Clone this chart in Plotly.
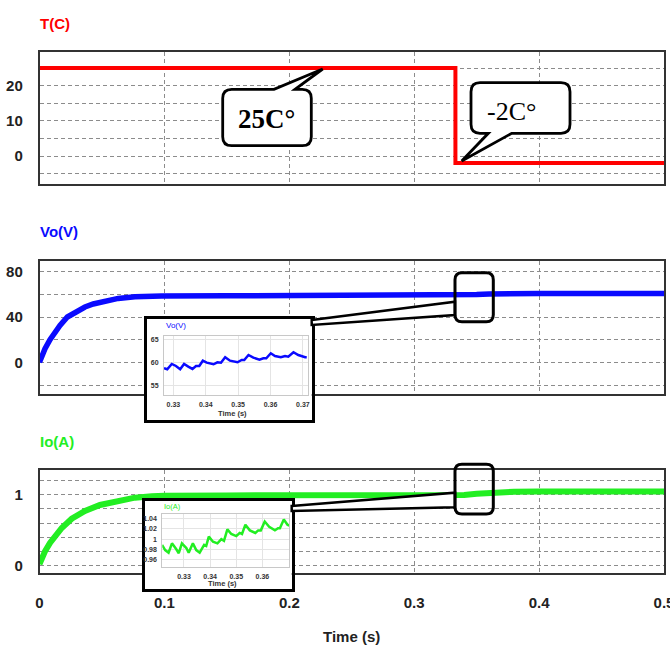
import plotly.graph_objects as go

W, H = 670, 649

# ---------------- data ----------------
temp_t = [0, 0.333, 0.333, 0.5]
temp_c = [25, 25, -2, -2]

vo_t = [0, 0.002, 0.0044, 0.0084, 0.0124, 0.0164, 0.0223, 0.029, 0.0364, 0.043,
        0.0497, 0.056, 0.063, 0.0764, 0.0978, 0.15, 0.2, 0.25, 0.3, 0.333,
        0.34, 0.35, 0.36, 0.37, 0.38, 0.4, 0.45, 0.5]
vo_v = [0, 6, 12, 20, 26.5, 32.5, 40, 44.5, 48.8, 51.5,
        53.5, 55.2, 56.4, 57.8, 58.5, 58.7, 58.7, 58.7, 58.7, 58.8,
        59.2, 59.8, 60.3, 60.6, 60.8, 60.8, 60.8, 60.8]

io_t = [0, 0.002, 0.0044, 0.0084, 0.013, 0.0178, 0.0258, 0.0364, 0.0484, 0.063,
        0.0764, 0.09, 0.1, 0.15, 0.2, 0.25, 0.3, 0.333, 0.34, 0.35,
        0.36, 0.37, 0.38, 0.4, 0.45, 0.5]
io_a = [0.02, 0.11, 0.2, 0.32, 0.43, 0.53, 0.66, 0.77, 0.855, 0.92,
        0.958, 0.978, 0.985, 0.99, 0.99, 0.99, 0.99, 0.99, 0.996, 1.012,
        1.025, 1.035, 1.042, 1.045, 1.045, 1.045]

vo_zoom_t = [0.3271, 0.3281, 0.3295, 0.3308, 0.3321, 0.3333, 0.3346, 0.3359, 0.3370, 0.3380,
             0.3391, 0.3403, 0.3424, 0.3436, 0.3447, 0.3460, 0.3475, 0.3498, 0.3511, 0.3519,
             0.3532, 0.3547, 0.3566, 0.3578, 0.3587, 0.3601, 0.3614, 0.3632, 0.3645, 0.3655,
             0.3671, 0.3686, 0.3707, 0.3712]
vo_zoom_v = [58.85, 58.63, 59.78, 59.35, 58.63, 59.78, 59.20, 58.70, 59.35, 59.35,
             60.50, 60.07, 59.72, 60.15, 60.07, 61.24, 60.50, 60.15, 60.65, 60.65,
             61.74, 61.15, 60.72, 61.02, 61.02, 62.11, 61.52, 61.24, 61.52, 61.37,
             62.33, 61.74, 61.24, 61.24]

io_zoom_t = [0.3216, 0.3228, 0.3241, 0.3254, 0.3270, 0.3280, 0.3292, 0.3309, 0.3318, 0.3334,
             0.3347, 0.3360, 0.3377, 0.3385, 0.3395, 0.3411, 0.3428, 0.3443, 0.3453, 0.3466,
             0.3481, 0.3500, 0.3513, 0.3522, 0.3535, 0.3552, 0.3573, 0.3584, 0.3594, 0.3609,
             0.3626, 0.3648, 0.3660, 0.3667, 0.3682, 0.3696, 0.3703]
io_zoom_a = [0.989, 0.979, 0.974, 0.992, 0.981, 0.973, 0.992, 0.983, 0.974, 0.992,
             0.979, 0.974, 0.989, 0.987, 1.005, 0.995, 0.992, 1.000, 0.997, 1.019,
             1.010, 1.006, 1.012, 1.010, 1.028, 1.017, 1.012, 1.017, 1.017, 1.034,
             1.024, 1.017, 1.021, 1.021, 1.038, 1.028, 1.026]

time_ticks = [0, 0.1, 0.2, 0.3, 0.4, 0.5]
time_labels = ["0", "0.1", "0.2", "0.3", "0.4", "0.5"]
temp_ticks = [0, 10, 20]
vo_ticks = [0, 40, 80]
io_ticks = [0, 1]
vo_zoom_xticks = [0.33, 0.34, 0.35, 0.36, 0.37]
vo_zoom_yticks = [55, 60, 65]
io_zoom_xticks = [0.33, 0.34, 0.35, 0.36]
io_zoom_yticks = [0.96, 0.98, 1.0, 1.02, 1.04]
io_zoom_ylabels = ["0.96", "0.98", "1", "1.02", "1.04"]

# ---------------- style ----------------
RED, BLUE, GREEN = "#ff0000", "#0a0aff", "#22ee22"
SANS = "Liberation Sans, Arial, sans-serif"
SERIF = "Liberation Serif, Times New Roman, serif"
GRID = "#8c8c8c"
DASH = "4px,3px"


def fx(px):
    return px / W


def fy(py):
    return 1 - py / H


def pt(px, py):
    return f"{fx(px):.5f},{fy(py):.5f}"


def bubble_path(x0, y0, x1, y1, r, top_tail=None, bottom_tail=None):
    """Rounded box outline (pixel coords) with an optional pointer on the top or bottom edge."""
    p = [f"M{pt(x0 + r, y0)}"]
    if top_tail:
        a, (tx, ty), b = top_tail
        p += [f"L{pt(a, y0)}", f"L{pt(tx, ty)}", f"L{pt(b, y0)}"]
    p += [f"L{pt(x1 - r, y0)}", f"Q{pt(x1, y0)} {pt(x1, y0 + r)}",
          f"L{pt(x1, y1 - r)}", f"Q{pt(x1, y1)} {pt(x1 - r, y1)}"]
    if bottom_tail:
        b, (tx, ty), a = bottom_tail
        p += [f"L{pt(b, y1)}", f"L{pt(tx, ty)}", f"L{pt(a, y1)}"]
    p += [f"L{pt(x0 + r, y1)}", f"Q{pt(x0, y1)} {pt(x0, y1 - r)}",
          f"L{pt(x0, y0 + r)}", f"Q{pt(x0, y0)} {pt(x0 + r, y0)}", "Z"]
    return " ".join(p)


def poly_path(points):
    return "M" + " L".join(pt(x, y) for x, y in points) + " Z"


# ---------------- traces ----------------
fig = go.Figure()
fig.add_trace(go.Scatter(x=temp_t, y=temp_c, mode="lines",
                         line=dict(color=RED, width=4), xaxis="x", yaxis="y"))
fig.add_trace(go.Scatter(x=vo_t, y=vo_v, mode="lines",
                         line=dict(color=BLUE, width=5.5), xaxis="x2", yaxis="y2"))
fig.add_trace(go.Scatter(x=io_t, y=io_a, mode="lines",
                         line=dict(color=GREEN, width=6), xaxis="x3", yaxis="y3"))
# frame panels behind the zoom views
fig.add_trace(go.Scatter(x=[], y=[], xaxis="x4", yaxis="y4"))
fig.add_trace(go.Scatter(x=vo_zoom_t, y=vo_zoom_v, mode="lines",
                         line=dict(color=BLUE, width=2.5), xaxis="x5", yaxis="y5"))
fig.add_trace(go.Scatter(x=[], y=[], xaxis="x6", yaxis="y6"))
fig.add_trace(go.Scatter(x=io_zoom_t, y=io_zoom_a, mode="lines",
                         line=dict(color=GREEN, width=2.5), xaxis="x7", yaxis="y7"))

# ---------------- axes ----------------
main_xdom = [fx(39.5), fx(664)]
TICKFONT = dict(family=SANS, size=15, color="#222", weight="bold")


def main_x(anchor, labels=False):
    return dict(domain=main_xdom, range=[0, 0.5], anchor=anchor, automargin=False,
                tickvals=time_ticks, ticktext=time_labels, showticklabels=labels,
                ticklabeloverflow="allow",
                showgrid=True, gridcolor=GRID, griddash=DASH, gridwidth=1,
                showline=True, mirror=True, linecolor="#333", linewidth=1.5,
                ticks="", zeroline=False, ticklabelstandoff=15, tickfont=TICKFONT)


def main_y(anchor, dom, rng, ticks, minor_step):
    return dict(domain=dom, range=rng, anchor=anchor, tickvals=ticks, automargin=False,
                showgrid=True, gridcolor=GRID, griddash=DASH, gridwidth=1,
                minor=dict(tick0=0, dtick=minor_step, showgrid=True, gridcolor=GRID,
                           griddash=DASH, gridwidth=1, ticks=""),
                showline=True, mirror=True, linecolor="#333", linewidth=1.5,
                ticks="", zeroline=False, ticklabelstandoff=12, tickfont=TICKFONT)


def frame_axis(anchor, dom):
    return dict(domain=dom, range=[0, 1], anchor=anchor, showline=True, mirror=True,
                linecolor="black", linewidth=3, showgrid=False, zeroline=False,
                showticklabels=False, ticks="", fixedrange=True, automargin=False)


def zoom_axis(anchor, dom, rng, ticks, labels=None):
    d = dict(domain=dom, range=rng, anchor=anchor, tickvals=ticks, automargin=False,
             showgrid=True, gridcolor="#e4e4e4", gridwidth=1,
             showline=True, mirror=True, linecolor="#c8c8c8", linewidth=1,
             ticks="", zeroline=False, ticklabelstandoff=3,
             tickfont=dict(family=SANS, size=7, color="#333", weight="bold"))
    if labels:
        d["ticktext"] = labels
    return d


fig.update_layout(
    xaxis=main_x("y"),
    yaxis=main_y("x", [fy(184.3), fy(51.7)], [-8.04, 29.63], temp_ticks, 5),
    xaxis2=main_x("y2"),
    yaxis2=main_y("x2", [fy(394.3), fy(261)], [-28.2, 89.4], vo_ticks, 20),
    xaxis3=main_x("y3", labels=True),
    yaxis3=main_y("x3", [fy(573.3), fy(470)], [-0.110, 1.349], io_ticks, 0.2),
    xaxis4=frame_axis("y4", [fx(147), fx(311.7)]),
    yaxis4=frame_axis("x4", [fy(420), fy(319)]),
    xaxis5=zoom_axis("y5", [fx(164), fx(307.7)], [0.3271, 0.3715], vo_zoom_xticks),
    yaxis5=zoom_axis("x5", [fy(395), fy(335.7)], [53.04, 65.93], vo_zoom_yticks),
    xaxis6=frame_axis("y6", [fx(145), fx(291.7)]),
    yaxis6=frame_axis("x6", [fy(589.3), fy(501)]),
    xaxis7=zoom_axis("y7", [fx(162.3), fx(289.3)], [0.3217, 0.3703], io_zoom_xticks),
    yaxis7=zoom_axis("x7", [fy(566.7), fy(514.3)], [0.947, 1.048], io_zoom_yticks,
                     labels=io_zoom_ylabels),
)

# ---------------- callouts, zoom boxes ----------------
shapes = [
    # zoom connectors
    dict(type="path", path=poly_path([(311.7, 320), (455, 301.7), (455, 315), (311.7, 325)])),
    dict(type="path", path=poly_path([(291.7, 506), (455, 492.7), (455, 507.3), (291.7, 511)])),
]
for s in shapes:
    s.update(xref="paper", yref="paper", layer="above", fillcolor="white",
             line=dict(color="black", width=2.5))

for y0, y1 in [(272.7, 321.7), (464.3, 514)]:
    shapes.append(dict(type="path", xref="paper", yref="paper", layer="above",
                       path=bubble_path(455, y0, 493.3, y1, 7),
                       fillcolor="rgba(0,0,0,0)", line=dict(color="black", width=3)))

shapes.append(dict(type="path", xref="paper", yref="paper", layer="above",
                   path=bubble_path(222.7, 89.3, 311.3, 145.7, 9,
                                    top_tail=(274, (322.7, 69), 295)),
                   fillcolor="white", line=dict(color="black", width=2.8)))
shapes.append(dict(type="path", xref="paper", yref="paper", layer="above",
                   path=bubble_path(471, 82.7, 570, 133.3, 9,
                                    bottom_tail=(511.7, (461.7, 161), 488.3)),
                   fillcolor="white", line=dict(color="black", width=2.8)))


def note(text, px, py, size, color="#222", family=SANS, weight="normal", xanchor="left"):
    return dict(text=text, x=fx(px), y=fy(py), xref="paper", yref="paper",
                xanchor=xanchor, yanchor="middle", showarrow=False,
                font=dict(family=family, size=size, color=color, weight=weight))


annotations = [
    note("T(C)", 38, 24, 15, RED, weight="bold"),
    note("Vo(V)", 38, 231.7, 15, BLUE, weight="bold"),
    note("Io(A)", 38, 441.7, 15, GREEN, weight="bold"),
    note("Time (s)", 351.7, 636.7, 15, "#222", weight="bold", xanchor="center"),
    note(f"{temp_c[0]}C°", 266, 119, 27, "black", SERIF, "bold", "center"),
    note(f"{temp_c[-1]}C°", 511, 111, 26, "black", SERIF, "normal", "center"),
    note("Vo(V)", 163.5, 325, 8, BLUE),
    note("Io(A)", 162, 506.7, 7.5, GREEN),
    note("Time (s)", 232, 413.3, 7.5, "#333", SANS, "bold", "center"),
    note("Time (s)", 222, 583.3, 7.5, "#333", SANS, "bold", "center"),
]

fig.update_layout(
    width=W, height=H, margin=dict(l=0, r=0, t=0, b=0, autoexpand=False),
    paper_bgcolor="white", plot_bgcolor="white", showlegend=False,
    shapes=shapes, annotations=annotations,
)

fig.write_html("out.html")
